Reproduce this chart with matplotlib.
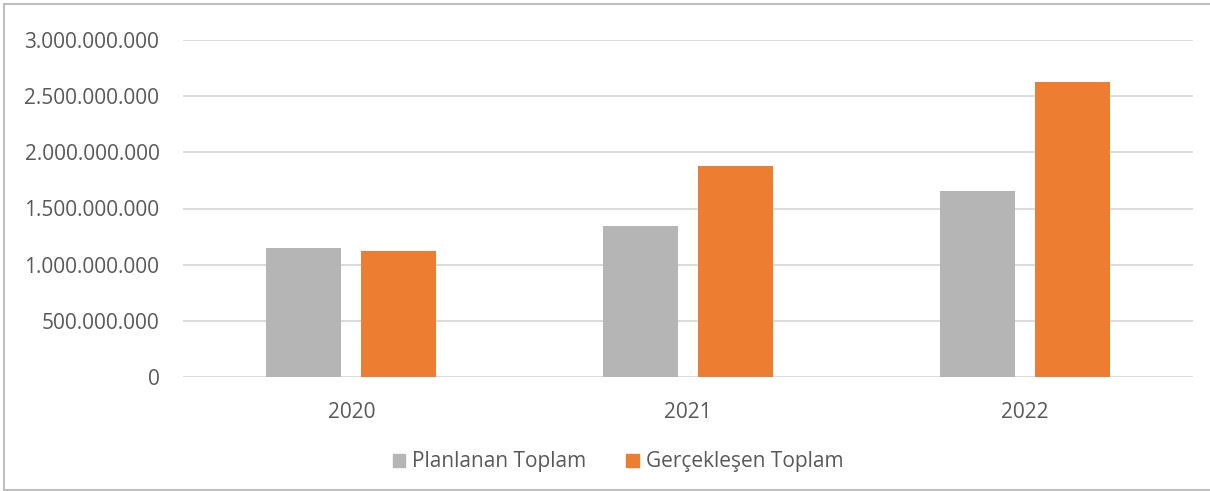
import matplotlib
matplotlib.use("Agg")
import matplotlib.pyplot as plt
import matplotlib.patches as patches
from matplotlib.ticker import FuncFormatter
import numpy as np

# data
years = ["2020", "2021", "2022"]
planlanan = [1146000000, 1344000000, 1658000000]
gerceklesen = [1119000000, 1878000000, 2623000000]
series_names = ["Planlanan Toplam", "Gerçekleşen Toplam"]
y_ticks = [0, 500000000, 1000000000, 1500000000, 2000000000, 2500000000, 3000000000]

GRAY = "#b4b5b4"
ORANGE = "#ed7d31"
TEXT = "#595959"
GRID = "#d9d9d9"

plt.rcParams["font.family"] = ["Open Sans", "DejaVu Sans"]

fig = plt.figure(figsize=(12.10, 4.91), dpi=100)
ax = fig.add_axes([183 / 1210, 1 - 377 / 491, (1193 - 183) / 1210, (377 - 40) / 491])

x = np.arange(len(years))
w = 0.223
off = 0.141
ax.bar(x - off, planlanan, width=w, color=GRAY, zorder=3)
ax.bar(x + off, gerceklesen, width=w, color=ORANGE, zorder=3)

ax.set_xlim(-0.5, len(years) - 0.5)
ax.set_ylim(0, 3000000000)
ax.set_yticks(y_ticks)
ax.yaxis.set_major_formatter(FuncFormatter(lambda v, p: f"{int(v):,}".replace(",", ".")))
ax.set_xticks(x)
ax.set_xticklabels(years)

ax.grid(axis="y", color=GRID, linewidth=1.3, zorder=0)
for s in ax.spines.values():
    s.set_visible(False)
ax.tick_params(axis="both", length=0, labelsize=15, labelcolor=TEXT)
ax.tick_params(axis="y", pad=17)
ax.tick_params(axis="x", pad=18)

handles = [patches.Patch(color=GRAY), patches.Patch(color=ORANGE)]
leg = fig.legend(handles, series_names, loc="center", bbox_to_anchor=(618 / 1210, 1 - 462 / 491),
                 ncol=2, frameon=False, fontsize=15, handlelength=0.6, handleheight=0.6,
                 handletextpad=0.35, columnspacing=1.9)
for t in leg.get_texts():
    t.set_color(TEXT)

# outer chart border (right edge lies outside the crop)
fig.add_artist(plt.Line2D([4 / 1210, 4 / 1210], [1 - 3.5 / 491, 1 - 489.5 / 491], color="#bfbfbf", lw=1.5))
fig.add_artist(plt.Line2D([4 / 1210, 1], [1 - 3.5 / 491, 1 - 3.5 / 491], color="#bfbfbf", lw=1.5))
fig.add_artist(plt.Line2D([4 / 1210, 1], [1 - 489.5 / 491, 1 - 489.5 / 491], color="#bfbfbf", lw=1.5))

fig.savefig("out.png", dpi=100)
